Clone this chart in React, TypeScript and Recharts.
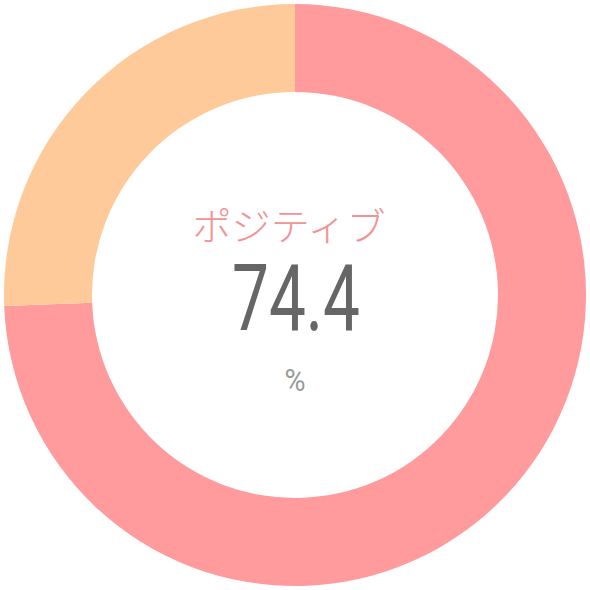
import { PieChart, Pie, Cell } from 'recharts';

const labels = ['ポジティブ', 'その他'];
const values = [74.4, 25.6];
const colors = ['#ff9b9c', '#ffca99'];

const data = labels.map((name, i) => ({ name, value: values[i] }));

const App = () => {
  return (
    <div style={{ position: 'absolute', top: 0, left: 0, width: 590, height: 590, background: '#fff' }}>
      <PieChart width={590} height={590} margin={{ top: 0, right: 0, bottom: 0, left: 0 }}>
        <Pie
          data={data}
          dataKey="value"
          nameKey="name"
          cx={295}
          cy={295}
          innerRadius={203}
          outerRadius={291}
          startAngle={90}
          endAngle={-270}
          stroke="none"
          isAnimationActive={false}
        >
          {data.map((d, i) => (
            <Cell key={d.name} fill={colors[i]} />
          ))}
        </Pie>
        <text
          x={289}
          y={240}
          textAnchor="middle"
          fill="#f29395"
          fontSize={38}
          fontWeight={300}
          fontFamily="'Noto Sans CJK JP', sans-serif"
          textLength={193}
          lengthAdjust="spacingAndGlyphs"
        >
          {labels[0]}
        </text>
        <text
          x={296}
          y={330}
          textAnchor="middle"
          fill="#666666"
          fontSize={92}
          fontFamily="Roboto, sans-serif"
          textLength={128}
          lengthAdjust="spacingAndGlyphs"
        >
          {values[0]}
        </text>
        <text
          x={295}
          y={391}
          textAnchor="middle"
          fill="#999999"
          fontSize={32}
          fontFamily="Roboto, sans-serif"
          textLength={21}
          lengthAdjust="spacingAndGlyphs"
        >
          %
        </text>
      </PieChart>
    </div>
  );
};

export default App;
